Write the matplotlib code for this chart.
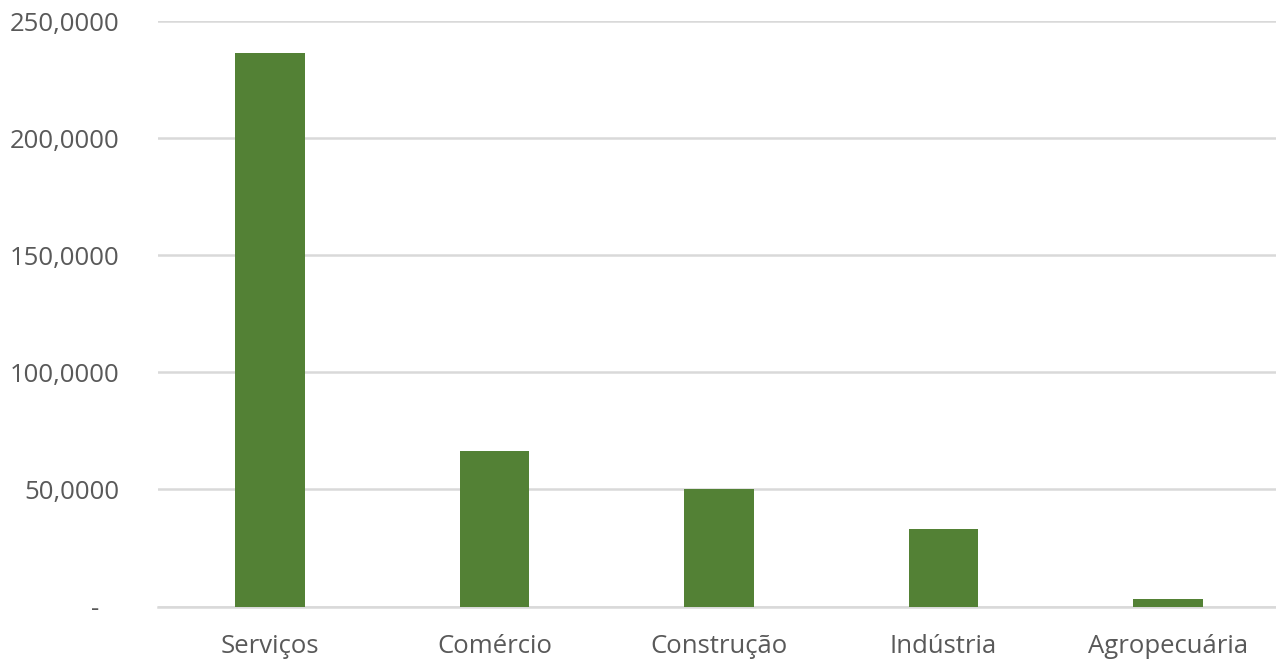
import matplotlib
matplotlib.use("Agg")
import matplotlib.pyplot as plt

categories = ["Serviços", "Comércio", "Construção", "Indústria", "Agropecuária"]
values = [236.3, 66.2, 50.0, 33.3, 3.3]
yticks = [0, 50, 100, 150, 200, 250]
ytick_labels = ["-   ", "50,0000", "100,0000", "150,0000", "200,0000", "250,0000"]

plt.rcParams['font.family'] = ['Open Sans', 'DejaVu Sans']

fig = plt.figure(figsize=(12.76, 6.6), dpi=100)
ax = fig.add_axes([158 / 1276, (660 - 606.5) / 660, (1276 - 158) / 1276, (606.5 - 21) / 660])

x = list(range(len(categories)))
ax.bar(x, values, width=0.31, color="#538135", zorder=3)

ax.set_xlim(-0.5, 4.5 - 4 / 224.5)
ax.set_ylim(0, 250)
ax.set_yticks(yticks)
ax.set_yticklabels(ytick_labels)
ax.set_xticks(x)
ax.set_xticklabels(categories)

ax.grid(axis="y", color="#d9d9d9", linewidth=1.8, zorder=0)
for s in ["top", "right", "left"]:
    ax.spines[s].set_visible(False)
ax.spines["bottom"].set_color("#d9d9d9")
ax.spines["bottom"].set_linewidth(1.8)

ax.tick_params(axis="y", length=0, pad=28, labelsize=18.5, labelcolor="#595959")
ax.tick_params(axis="x", length=0, pad=20, labelsize=18.5, labelcolor="#595959")

fig.savefig("out.png", dpi=100)
